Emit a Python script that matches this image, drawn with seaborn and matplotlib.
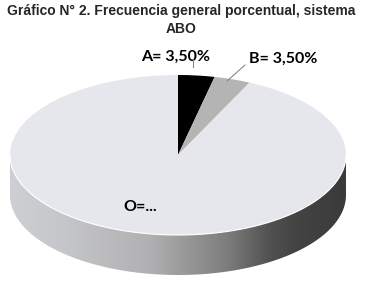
import numpy as np
import matplotlib
matplotlib.use("Agg")
import matplotlib.pyplot as plt
import seaborn as sns
from matplotlib.patches import Polygon
from matplotlib.colors import LinearSegmentedColormap

categories = ["A", "B", "O"]
values = [3.5, 3.5, 93.0]
labels = ["A= 3,50%", "B= 3,50%", "O=..."]
colors = ["#000000", "#b4b4b4", "#e6e7ec"]
title = "Gráfico N° 2. Frecuencia general porcentual, sistema\nABO"

sns.set_theme(style="white")
plt.rcParams['font.family'] = ['Liberation Sans', 'DejaVu Sans']

fig = plt.figure(figsize=(3.66, 2.86), dpi=100)
ax = fig.add_axes([0, 0, 1, 1])

wedges, _ = ax.pie(values, colors=colors, startangle=90, counterclock=False,
                   radius=1.0, center=(0, 0), wedgeprops=dict(linewidth=0))
for w in wedges:
    w.set_zorder(3)

# side band of the 3D disc
depth = 0.5
t = np.linspace(np.pi, 2 * np.pi, 200)
top = np.column_stack([np.cos(t), np.sin(t)])
bot = np.column_stack([np.cos(t[::-1]), np.sin(t[::-1]) - depth])
band = Polygon(np.vstack([top, bot]), closed=True, facecolor="none", edgecolor="none")
ax.add_patch(band)
cmap = LinearSegmentedColormap.from_list("side", [
    (0.0, "#cdcfd2"), (0.15, "#c6c7ca"), (0.42, "#b0b0b2"),
    (0.65, "#7c7c7c"), (0.77, "#525252"), (0.85, "#444444"), (1.0, "#3a3a3a")])
grad = np.tile(np.linspace(0, 1, 256), (20, 1))
im = ax.imshow(grad, cmap=cmap, extent=(-1, 1, -1 - depth, 0), aspect="auto",
               origin="lower", zorder=2)
im.set_clip_path(band)

# subtle highlight along the front rim
ax.plot(np.cos(t), np.sin(t), color="white", lw=0.8, zorder=4)

ax.set_aspect("auto")
ax.set_xlim(-178 / 168, (366 - 178) / 168)
ax.set_ylim(-131 / 80, 155 / 80)
ax.axis("off")

# labels
lab_font = dict(fontsize=11.5, fontweight="bold", color="black",
                family=["Lato", "DejaVu Sans"], ha="center", va="center")
ax.text(-0.012, 1.225, labels[0], **lab_font, zorder=5)
ax.text(0.625, 1.20, labels[1], **lab_font, zorder=5)
ax.text(-0.226, -0.65, labels[2], **lab_font, zorder=5)
ax.plot([0.089, 0.089], [1.20, 1.10], color="#888888", lw=0.8, zorder=5)
ax.plot([0.399, 0.292], [1.125, 0.925], color="#888888", lw=0.8, zorder=5)

fig.text(0.495, 0.93, title, ha="center", va="center", fontsize=10,
         fontweight="bold", linespacing=1.35)

fig.savefig("out.png", dpi=100)
